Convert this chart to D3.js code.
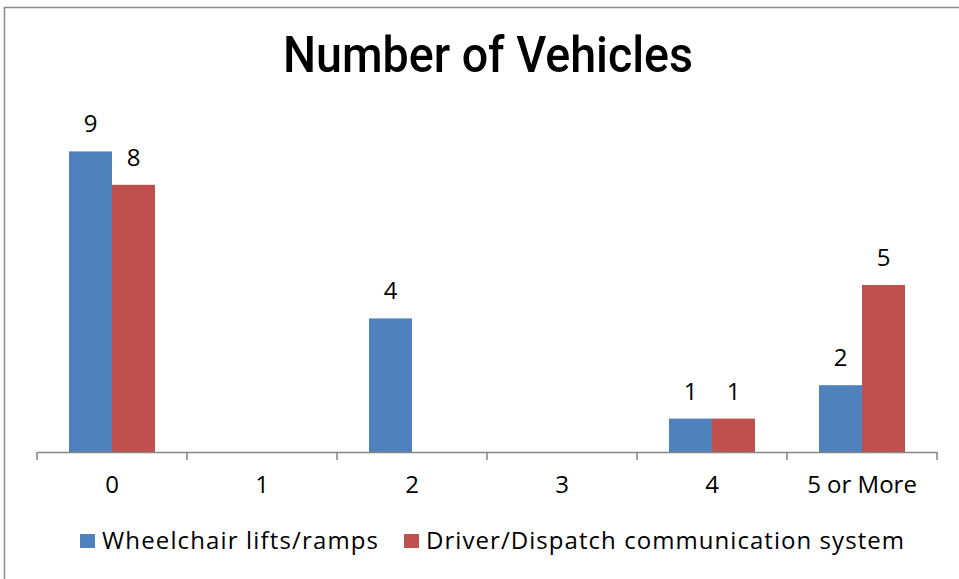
<!DOCTYPE html>
<html>
<head>
<meta charset="utf-8">
<script src="https://cdn.jsdelivr.net/npm/d3@7"></script>
<style>
  body { margin: 0; background: #fff; }
  text { font-family: "Open Sans", "Noto Sans", sans-serif; fill: #000; }
</style>
</head>
<body>
<svg id="chart"></svg>
<script>
// data
var categories = ['0', '1', '2', '3', '4', '5 or More'];
var seriesNames = ['Wheelchair lifts/ramps', 'Driver/Dispatch communication system'];
var wheelchair = [9, 0, 4, 0, 1, 2];
var dispatch = [8, 0, 0, 0, 1, 5];
var colors = ['#4f81bd', '#c0504d'];

var width = 959, height = 579;
var margin = {left: 37, right: 22, top: 118, bottom: 127};

var svg = d3.select('#chart')
    .attr('width', width)
    .attr('height', height);

// chart border
svg.append('rect')
    .attr('x', 4.5).attr('y', 7.5)
    .attr('width', 970).attr('height', 600)
    .attr('fill', 'none')
    .attr('stroke', '#8c8c8c')
    .attr('stroke-width', 1.5);

// title
svg.append('text')
    .attr('x', 488)
    .attr('y', 72)
    .attr('text-anchor', 'middle')
    .attr('textLength', 410)
    .attr('lengthAdjust', 'spacingAndGlyphs')
    .style('font-family', 'Roboto, sans-serif')
    .style('font-weight', 500)
    .style('font-size', '50px')
    .text('Number of Vehicles');

var baseY = height - margin.bottom;

var x = d3.scaleBand()
    .domain(categories)
    .range([margin.left, width - margin.right])
    .padding(0);

var x1 = d3.scaleBand()
    .domain(seriesNames)
    .range([0, x.bandwidth()])
    .paddingInner(0)
    .paddingOuter(0.744);

var y = d3.scaleLinear()
    .domain([0, 10])
    .range([baseY, margin.top]);

var rows = categories.map(function (c, i) {
    return {cat: c, values: [wheelchair[i], dispatch[i]]};
});

var groups = svg.selectAll('.grp')
    .data(rows)
    .enter().append('g')
    .attr('class', 'grp')
    .attr('transform', function (d) { return 'translate(' + x(d.cat) + ',0)'; });

var cells = groups.selectAll('g')
    .data(function (d) {
        return d.values.map(function (v, j) { return {name: seriesNames[j], value: v, idx: j}; });
    })
    .enter().append('g');

cells.append('rect')
    .attr('x', function (d) { return x1(d.name); })
    .attr('y', function (d) { return y(d.value); })
    .attr('width', x1.bandwidth())
    .attr('height', function (d) { return baseY - y(d.value); })
    .attr('fill', function (d) { return colors[d.idx]; });

// value labels
cells.filter(function (d) { return d.value > 0; })
    .append('text')
    .attr('x', function (d) { return x1(d.name) + x1.bandwidth() / 2; })
    .attr('y', function (d) { return y(d.value) - 19; })
    .attr('text-anchor', 'middle')
    .style('font-size', '24px')
    .text(function (d) { return d.value; });

// x axis
var xAxis = svg.append('g')
    .attr('transform', 'translate(0,' + baseY + ')')
    .call(d3.axisBottom(x).tickSize(0).tickPadding(24));
xAxis.select('.domain').attr('stroke', '#868686').attr('stroke-width', 1.5);
xAxis.selectAll('.tick text')
    .style('font-size', '24px')
    .style('font-family', '"Open Sans", sans-serif');

// boundary ticks
var bounds = categories.map(function (c) { return x(c); }).concat([x.range()[1]]);
svg.append('g').selectAll('line')
    .data(bounds)
    .enter().append('line')
    .attr('x1', function (d) { return d; })
    .attr('x2', function (d) { return d; })
    .attr('y1', baseY)
    .attr('y2', baseY + 8)
    .attr('stroke', '#868686')
    .attr('stroke-width', 1.5);

// legend
var legendX = [80, 404];
var legendLen = [276, 478];
var legend = svg.selectAll('.legend')
    .data(seriesNames)
    .enter().append('g')
    .attr('class', 'legend')
    .attr('transform', function (d, i) { return 'translate(' + legendX[i] + ',534)'; });

legend.append('rect')
    .attr('width', 15)
    .attr('height', 14)
    .attr('fill', function (d, i) { return colors[i]; });

legend.append('text')
    .attr('x', 22)
    .attr('y', 15)
    .attr('textLength', function (d, i) { return legendLen[i]; })
    .attr('lengthAdjust', 'spacing')
    .style('font-size', '24px')
    .text(function (d) { return d; });
</script>
</body>
</html>
